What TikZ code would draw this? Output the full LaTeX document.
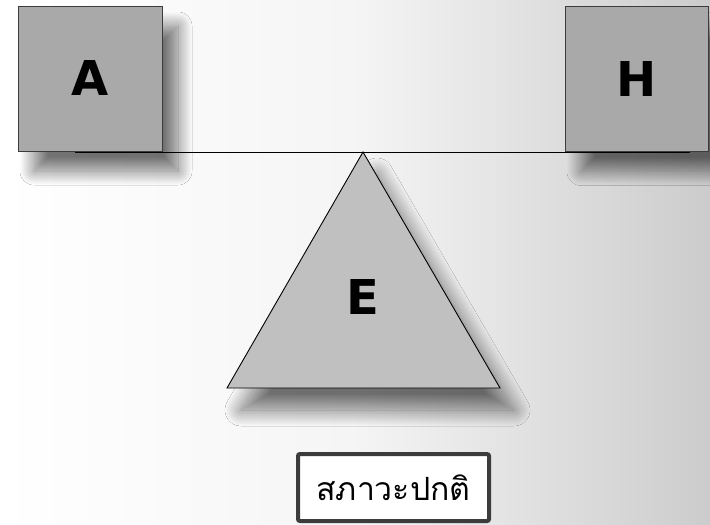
\documentclass[tikz,border=0pt]{standalone}
\usepackage{fontspec}
\setmainfont{DejaVu Sans}
\newfontfamily\thaifont[Script=Thai]{Loma}
\usetikzlibrary{shadows.blur}
\definecolor{boxgray}{HTML}{A9A9A9}
\definecolor{trigray}{HTML}{C0C0C0}
\definecolor{edgegray}{HTML}{3C3C3C}
\begin{document}
\begin{tikzpicture}[x=1pt,y=-1pt,
  softshadow/.style={blur shadow={shadow xshift=16pt, shadow yshift=-20pt,
      shadow blur radius=14pt, shadow blur steps=30, shadow opacity=55}},
  weight/.style={draw=edgegray, line width=0.9pt, fill=boxgray,
    minimum width=144pt, minimum height=145pt, inner sep=0pt,
    font=\fontsize{48}{50}\selectfont\bfseries, softshadow},
  letter/.style={font=\fontsize{48}{50}\selectfont\bfseries, inner sep=0pt},
  caption/.style={draw=edgegray, line width=4pt, fill=white, rounded corners=2pt,
    minimum width=191pt, minimum height=67pt, inner sep=0pt,
    font=\thaifont\fontsize{32}{36}\selectfont}]
  % background
  \useasboundingbox (0,0) rectangle (710,525);
  \shade[left color=white, right color=black!20, middle color=black!4]
    (0,0) rectangle (710,525);
  % beam and fulcrum corners
  \coordinate (beamL) at (75,152);
  \coordinate (beamR) at (690,152);
  \coordinate (apex) at (363,152);
  \coordinate (baseL) at (227,388);
  \coordinate (baseR) at (500,388);
  % fulcrum
  \draw[line width=0.9pt, fill=trigray,
    blur shadow={shadow xshift=14pt, shadow yshift=-22pt,
      shadow blur radius=16pt, shadow blur steps=30, shadow opacity=55}]
    (apex) -- (baseL) -- (baseR) -- cycle;
  \node[letter] (E) at (363,297) {E};
  \draw[line width=0.9pt] (beamL) -- (beamR);
  % weights on the beam
  \node[weight] (A) at (90,78.5) {A};
  \node[weight, minimum width=143pt] (H) at (636.5,79) {H};
  % caption
  \node[caption] (state) at (393.5,487.5) {สภาวะปกติ};
\end{tikzpicture}
\end{document}
